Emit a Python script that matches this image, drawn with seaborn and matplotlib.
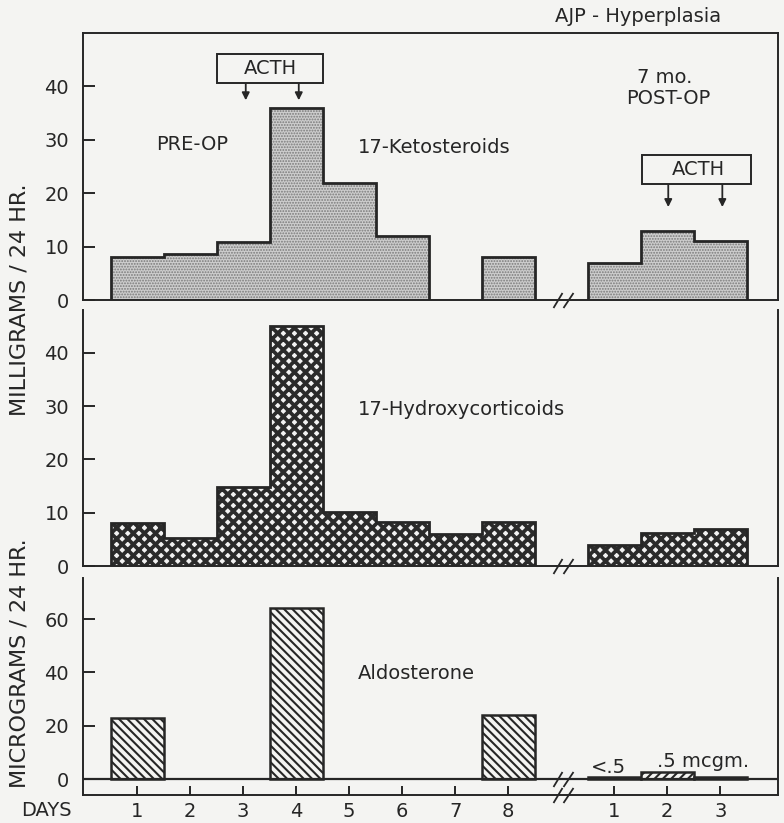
import numpy as np
import pandas as pd
import matplotlib
matplotlib.use("Agg")
import matplotlib.pyplot as plt
from matplotlib.path import Path
from matplotlib.patches import Rectangle
import seaborn as sns

# ---------------- data ----------------
pre_days = [1, 2, 3, 4, 5, 6, 7, 8]
post_days = [1, 2, 3]
post_offset = 9          # post-op days are plotted after the axis break

ketosteroids_pre = [8.0, 8.7, 10.8, 36.0, 22.0, 12.0, np.nan, 8.0]
ketosteroids_post = [7.0, 13.0, 11.0]

hydroxy_pre = [8.0, 5.2, 14.8, 45.0, 10.2, 8.2, 6.0, 8.2]
hydroxy_post = [4.0, 6.2, 7.0]

aldosterone_pre = [23.0, np.nan, np.nan, 64.0, np.nan, np.nan, np.nan, 24.0]
aldosterone_post = [0.6, 2.6, 0.6]            # drawn heights
aldosterone_post_text = ["<.5", ".5 mcgm.", "<.5"]

pre_tick_labels = ["1", "2", "3", "4", "5", "6", "7", "8"]
post_tick_labels = ["1", "2", "3"]

# ---------------- style ----------------
BG = "#f4f4f2"
INK = "#262626"
sns.set_theme(style="ticks")
plt.rcParams["font.family"] = ["DejaVu Sans"]
plt.rcParams["text.color"] = INK
plt.rcParams["axes.edgecolor"] = INK
plt.rcParams["xtick.color"] = INK
plt.rcParams["ytick.color"] = INK
plt.rcParams["axes.linewidth"] = 1.4

fig = plt.figure(figsize=(7.84, 8.23), dpi=100, facecolor=BG)
W, H = 784.0, 823.0
L, R = 83.0, 778.0


def add_ax(top, bottom):
    ax = fig.add_axes([L / W, 1 - bottom / H, (R - L) / W, (bottom - top) / H])
    ax.set_facecolor(BG)
    return ax


ax1 = add_ax(33, 300)
ax2 = add_ax(310, 566)
ax3 = add_ax(578, 795)

XLIM = (-0.02, 13.09)


def frame(pre, post):
    pos = list(pre_days) + [d + post_offset for d in post_days]
    val = list(pre) + list(post)
    return pd.DataFrame({"pos": pos, "value": val}).dropna().reset_index(drop=True)


def bars(ax, df, face, hatch, hatch_color, hatch_lw, lw=0.0, edge=None):
    with plt.rc_context({"hatch.linewidth": hatch_lw, "hatch.color": hatch_color}):
        sns.barplot(data=df, x="pos", y="value", native_scale=True, width=1.0,
                    orient="x", color=face, saturation=1, errorbar=None, ax=ax,
                    linewidth=lw, edgecolor=edge if edge else hatch_color,
                    hatch=hatch)


def envelope(ax, df):
    xs = df["pos"].to_numpy()
    ys = df["value"].to_numpy()
    splits = np.where(np.diff(xs) > 1)[0] + 1
    for gx, gy in zip(np.split(xs, splits), np.split(ys, splits)):
        px = [gx[0] - 0.5]
        py = [0.0]
        for x, y in zip(gx, gy):
            px += [x - 0.5, x + 0.5]
            py += [y, y]
        px.append(gx[-1] + 0.5)
        py.append(0.0)
        ax.plot(px, py, color=INK, lw=2.0, solid_joinstyle="miter", zorder=4)


break_path = Path([(-10, -7.5), (-1, 7.5), (0, -7.5), (10, 7.5)],
                  [Path.MOVETO, Path.LINETO, Path.MOVETO, Path.LINETO])


def break_mark(ax, y):
    ax.plot([9.04], [y], marker=break_path, markersize=14.4, mew=1.3,
            mfc="none", mec=INK, clip_on=False, zorder=6, linestyle="none")


# ---------------- panel 1: 17-ketosteroids ----------------
df1 = frame(ketosteroids_pre, ketosteroids_post)
bars(ax1, df1, "#cdcdcd", "......", "#7a7a7a", 0.9)
envelope(ax1, df1)
ax1.set_ylim(0, 50)
ax1.set_yticks([0, 10, 20, 30, 40])
break_mark(ax1, 0)

# ACTH boxes and arrows
ax1.add_patch(Rectangle((2.51, 40.6), 2.0, 5.5, fill=True, facecolor=BG,
                        edgecolor=INK, lw=1.4, zorder=5))
ax1.text(3.51, 43.35, "ACTH", ha="center", va="center", fontsize=14, zorder=6)
for xa in (3.05, 4.05):
    ax1.annotate("", xy=(xa, 37.4), xytext=(xa, 40.6),
                 arrowprops=dict(arrowstyle="-|>", lw=1.3, color=INK,
                                 mutation_scale=11, shrinkA=0, shrinkB=0))
ax1.add_patch(Rectangle((10.53, 21.7), 2.05, 5.5, fill=True, facecolor=BG,
                        edgecolor=INK, lw=1.4, zorder=5))
ax1.text(11.58, 24.45, "ACTH", ha="center", va="center", fontsize=14, zorder=6)
for xa in (11.02, 12.04):
    ax1.annotate("", xy=(xa, 17.4), xytext=(xa, 21.7),
                 arrowprops=dict(arrowstyle="-|>", lw=1.3, color=INK,
                                 mutation_scale=11, shrinkA=0, shrinkB=0))

ax1.text(2.04, 29.2, "PRE-OP", ha="center", va="center", fontsize=14)
ax1.text(5.17, 28.6, "17-Ketosteroids", ha="left", va="center", fontsize=14)
ax1.text(10.95, 41.6, "7 mo.", ha="center", va="center", fontsize=14)
ax1.text(11.02, 37.7, "POST-OP", ha="center", va="center", fontsize=14)

# ---------------- panel 2: 17-hydroxycorticoids ----------------
df2 = frame(hydroxy_pre, hydroxy_post)
bars(ax2, df2, "#f2f2f2", "xxx", "#2b2b2b", 2.7)
envelope(ax2, df2)
ax2.set_ylim(0, 48)
ax2.set_yticks([0, 10, 20, 30, 40])
break_mark(ax2, 0)
ax2.text(5.17, 29.4, "17-Hydroxycorticoids", ha="left", va="center", fontsize=14)

# ---------------- panel 3: aldosterone ----------------
df3 = frame(aldosterone_pre, aldosterone_post)
bars(ax3, df3, BG, "\\\\\\\\", INK, 1.5, lw=1.8, edge=INK)
post_positions = [d + post_offset for d in post_days]
for p in ax3.patches:
    cx = p.get_x() + p.get_width() / 2
    for pos, txt in zip(post_positions, aldosterone_post_text):
        if abs(cx - pos) < 0.01:
            if txt.startswith("<"):
                p.set_facecolor(INK)
                p.set_hatch(None)
            else:
                p.set_hatch("////")
ax3.axhline(0, color=INK, lw=1.6, zorder=3)
ax3.set_ylim(-6.0, 75.4)
ax3.set_yticks([0, 20, 40, 60])
break_mark(ax3, 0)
break_mark(ax3, -6)
ax3.text(5.17, 39.4, "Aldosterone", ha="left", va="center", fontsize=14)
ax3.text(9.9, 2.2, aldosterone_post_text[0], ha="center", va="baseline", fontsize=14)
ax3.text(11.68, 4.5, aldosterone_post_text[1], ha="center", va="baseline", fontsize=14)

ax3.set_xticks(list(pre_days) + post_positions)
ax3.set_xticklabels(pre_tick_labels + post_tick_labels)

# ---------------- axes cosmetics ----------------
for ax in (ax1, ax2, ax3):
    ax.set_xlim(*XLIM)
    ax.set_xlabel("")
    ax.set_ylabel("")
    ax.tick_params(axis="y", direction="in", length=8.5, width=1.4, pad=10,
                   labelsize=14, left=True, right=False)
    for s in ("left", "right", "bottom"):
        ax.spines[s].set_linewidth(1.4)
        ax.spines[s].set_color(INK)
for ax in (ax1, ax2):
    ax.tick_params(axis="x", bottom=False, labelbottom=False)
ax1.spines["top"].set_linewidth(1.4)
ax2.spines["top"].set_visible(False)
ax3.spines["top"].set_visible(False)
ax3.tick_params(axis="x", direction="in", length=6.5, width=1.4, pad=5,
                labelsize=14, bottom=True, top=False)

# ---------------- figure texts ----------------
fig.text(638 / W, 1 - 16.5 / H, "AJP - Hyperplasia", ha="center", va="center",
         fontsize=14)
fig.text(20 / W, 1 - 300 / H, "MILLIGRAMS / 24 HR.", rotation=90,
         ha="center", va="center", fontsize=16)
fig.text(20 / W, 1 - 663 / H, "MICROGRAMS / 24 HR.", rotation=90,
         ha="center", va="center", fontsize=16)
fig.text(46 / W, 1 - 811 / H, "DAYS", ha="center", va="center", fontsize=14)

fig.savefig("out.png", dpi=100, facecolor=BG)
